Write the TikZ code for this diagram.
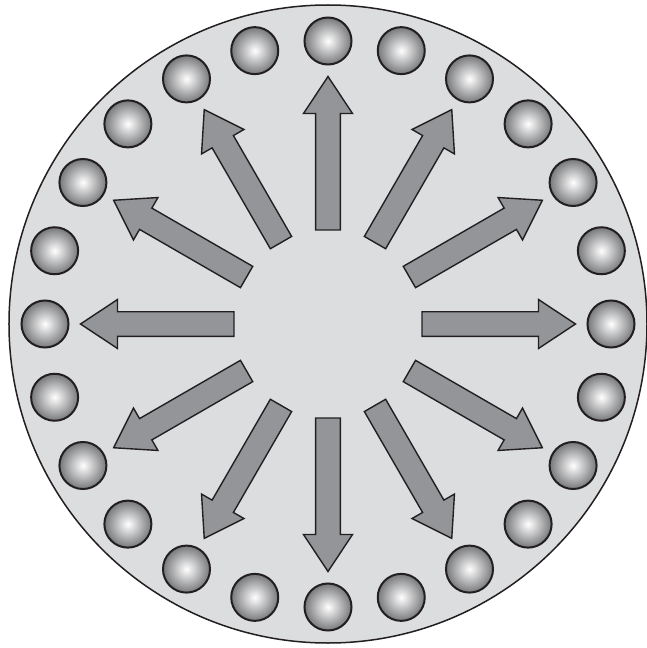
\documentclass[tikz,border=0pt]{standalone}
\usepackage{tikz}
\usetikzlibrary{shadings}

\definecolor{plateGray}{HTML}{DCDDDF}
\definecolor{arrowGray}{HTML}{939598}
\definecolor{edgeDark}{HTML}{231F20}
\definecolor{ballGray}{HTML}{77787B}

\begin{document}
\begin{tikzpicture}[
        x=1pt, y=1pt,
        % Outer plate: light gray disc, thin dark rim
        plate/.style = {circle, draw=edgeDark, fill=plateGray, line width=1.5pt,
                        minimum size=638pt, inner sep=0pt},
        % Spheres on the rim: shaded white centre, dark outline
        ball/.style = {circle, draw=edgeDark, line width=2pt, minimum size=47pt, inner sep=0pt,
                       inner color=white, outer color=ballGray},
        % Radial arrows: medium gray fill, dark outline
        flow/.style = {draw=edgeDark, fill=arrowGray, line width=1.4pt, line join=miter}
    ]

    % --- Frame (keeps the reference margins) ---
    \useasboundingbox (-328,-324) rectangle (319,324);

    % --- Plate ---
    \node[plate] (disc) at (0,0) {};

    % --- Ring of 24 spheres ---
    \foreach \i in {0,...,23} {
        \node[ball] (ball\i) at (90-15*\i:283) {};
    }

    % --- 12 arrows pointing outwards ---
    \foreach \a in {0,30,...,330} {
        \begin{scope}[rotate=\a]
            \draw[flow] (94,-12.3) -- (210.5,-12.3) -- (210.5,-24.5) -- (247.5,0)
                        -- (210.5,24.5) -- (210.5,12.3) -- (94,12.3) -- cycle;
        \end{scope}
    }

\end{tikzpicture}
\end{document}
